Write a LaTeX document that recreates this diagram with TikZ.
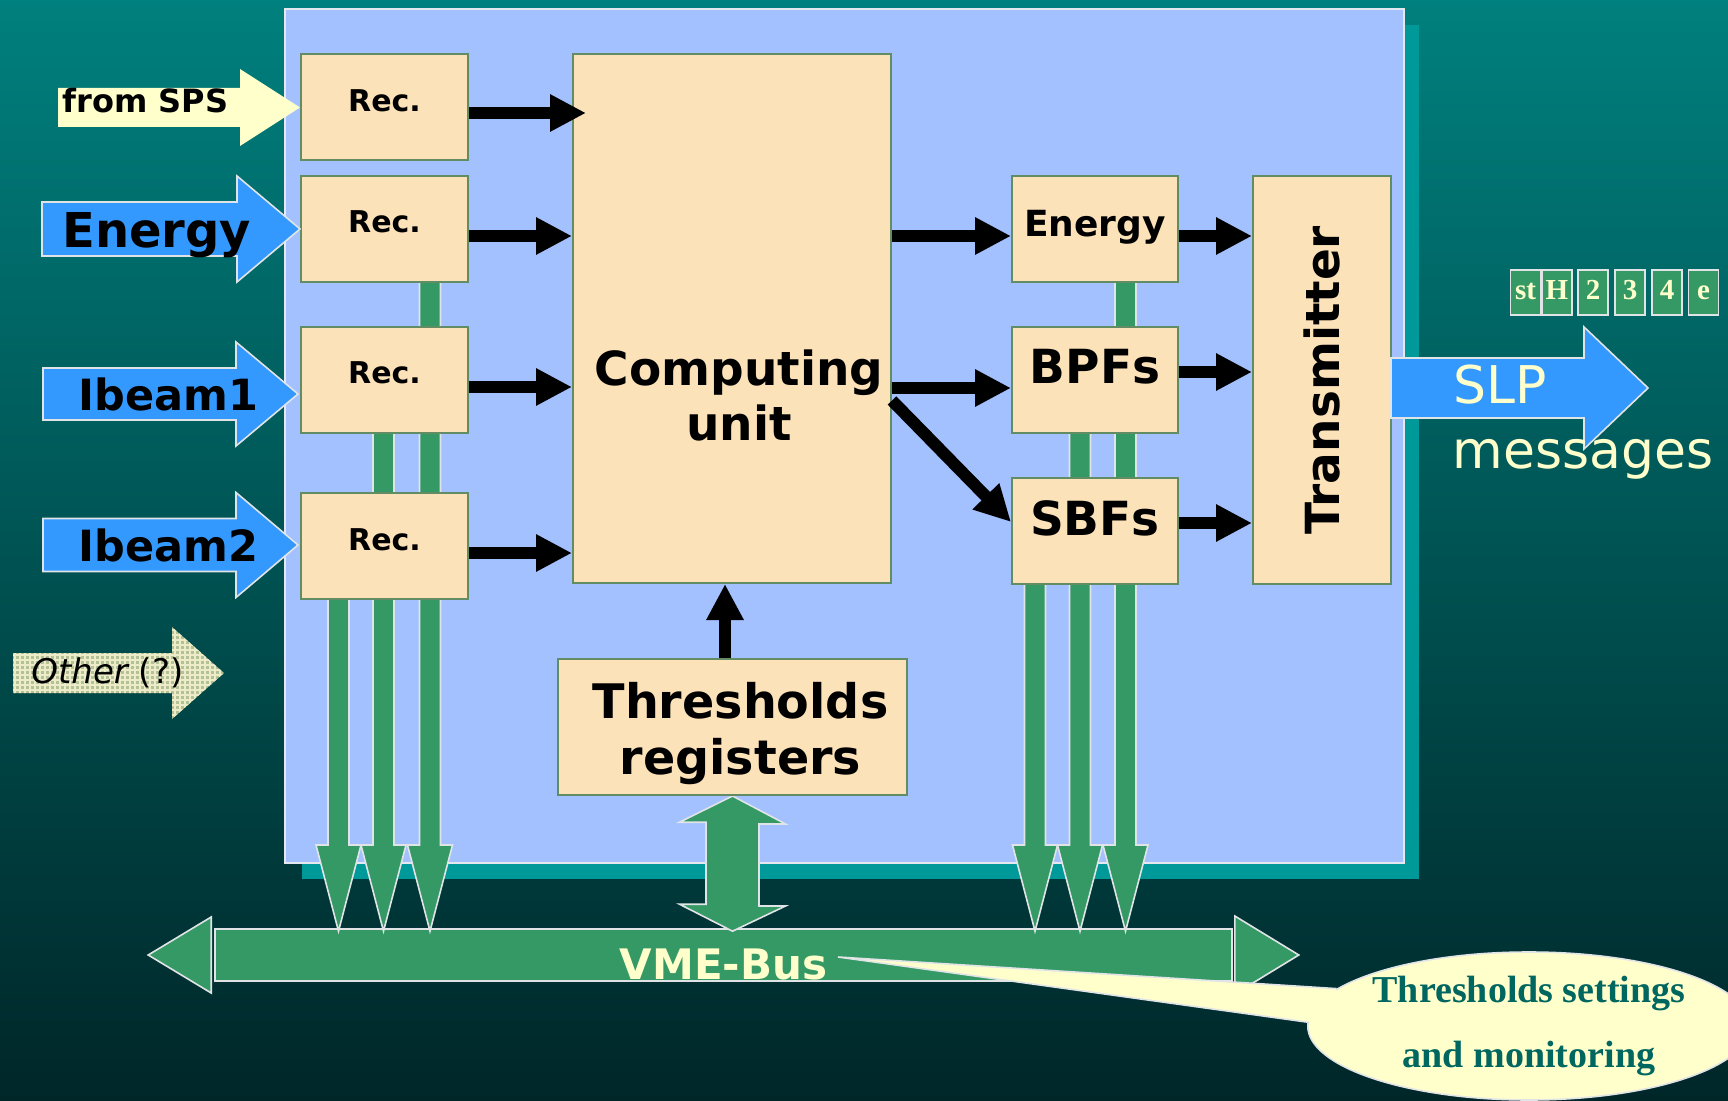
\documentclass[tikz,border=0pt]{standalone}
\usepackage{fontspec}
\setmainfont{DejaVu Sans}
\newfontfamily\timesfont{Liberation Serif}
\usetikzlibrary{arrows.meta, calc, shapes.geometric}

\definecolor{bgtop}{RGB}{0,128,126}
\definecolor{bgbot}{RGB}{0,38,40}
\definecolor{shadowteal}{RGB}{0,153,153}
\definecolor{panelblue}{RGB}{163,193,255}
\definecolor{panelline}{RGB}{230,232,240}
\definecolor{boxfill}{RGB}{252,226,185}
\definecolor{boxline}{RGB}{98,140,100}
\definecolor{busgreen}{RGB}{53,153,102}
\definecolor{lightline}{RGB}{225,228,230}
\definecolor{inblue}{RGB}{51,153,255}
\definecolor{cream}{RGB}{255,255,204}
\definecolor{calltext}{RGB}{0,102,96}
\definecolor{sage}{RGB}{178,194,150}
\definecolor{sagegrid}{RGB}{238,236,200}

\pgfdeclarelayer{bg}
\pgfdeclarelayer{mid}
\pgfsetlayers{bg,mid,main}

\newcommand\blockarrow[6][]{%
  \path[#1] #2 -- ++(-#6,-#5) -- ++(0,#5-#4) -- ++(#6-#3,0) -- ++(0,2*#4)
    -- ++(#3-#6,0) -- ++(0,#5-#4) -- cycle;}
\newcommand\dropbar[2]{%
  \path[bar] (#1-10.5,0 |- #2.south) -- (#1-10.5,845) -- (#1-22.5,845)
    -- ($(#1,0 |- bus.north)+(0,3)$) -- (#1+22.5,845) -- (#1+10.5,845)
    -- (#1+10.5,0 |- #2.south);}

\begin{document}
\begin{tikzpicture}[x=0.5pt, y=-0.5pt,
  box/.style={draw=boxline, fill=boxfill, line width=1pt, inner sep=0pt},
  recbox/.style={box, minimum width=83.5pt, minimum height=53pt, font=\bfseries\fontsize{15}{18}\selectfont, text height=10.9pt, text depth=6.9pt},
  filtbox/.style={box, minimum width=83pt, minimum height=53pt, font=\bfseries\fontsize{23.5}{28}\selectfont, text height=17.1pt, text depth=13.1pt},
  conn/.style={line width=6pt, -{Triangle[length=18pt, width=17.5pt]}},
  bar/.style={fill=busgreen, draw=lightline, line width=0.8pt},
  inarrow/.style={fill=inblue, draw=lightline, line width=0.8pt},
  intext/.style={anchor=base west, inner sep=0pt, font=\bfseries\fontsize{#1}{#1}\selectfont},
  bit/.style={fill=busgreen, draw=lightline, line width=0.75pt, minimum width=15pt, minimum height=22.5pt, inner sep=0pt, text=cream, text height=9.6pt, text depth=2.4pt, font=\timesfont\bfseries\fontsize{14.5}{15}\selectfont}]
\useasboundingbox (0,0) rectangle (1728,1101);

\node[recbox] (rec1) at (384.5,107.5) {Rec.};
\node[recbox] (rec2) at (384.5,229) {Rec.};
\node[recbox] (rec3) at (384.5,380) {Rec.};
\node[recbox] (rec4) at (384.5,546) {Rec.};
\node[box, minimum width=159pt, minimum height=264.5pt,
  label={[font=\bfseries\fontsize{23.5}{27.5}\selectfont, align=center, xshift=3.5pt, yshift=-38.5pt]center:Computing\\unit}] (comp) at (732,318.5) {};
\node[box, minimum width=83pt, minimum height=53pt, font=\bfseries\fontsize{18}{22}\selectfont, text height=13.1pt, text depth=5.1pt] (en) at (1095,229) {Energy};
\node[filtbox] (bpf) at (1095,380) {BPFs};
\node[filtbox] (sbf) at (1095,531) {SBFs};
\node[box, minimum width=69pt, minimum height=204pt, font=\bfseries\fontsize{23.5}{28}\selectfont] (tx) at (1322,380) {\rotatebox{90}{Transmitter}};
\node[box, minimum width=174.5pt, minimum height=68pt,
  label={[font=\bfseries\fontsize{23.8}{28}\selectfont, align=center, xshift=4pt, yshift=-3.5pt]center:Thresholds\\registers}] (thr) at (732.5,727) {};

\foreach \t/\x in {st/1525.5, H/1557, 2/1593, 3/1630, 4/1667, e/1703.5}
  \node[bit] (b\t) at (\x,292.5) {\t};

\begin{pgfonlayer}{bg}
\shade[top color=bgtop, bottom color=bgbot] (0,0) rectangle (1728,1101);
\fill[shadowteal] (302,25) rectangle (1419,879);
\filldraw[fill=panelblue, draw=panelline, line width=1pt] (285,9) rectangle (1404,863);
\node[bar, minimum width=508.5pt, minimum height=26pt, inner sep=0pt, text=cream, font=\bfseries\fontsize{21}{21}\selectfont, text height=24pt, text depth=0pt] (bus) at (723.5,955) {VME-Bus};
\path[bar] ($(bus.west)+(-3,-38)$) -- ++(-63,38) -- ++(63,38) -- cycle;
\path[bar] ($(bus.east)+(2,-39)$) -- ++(64,39) -- ++(-64,39) -- cycle;
\end{pgfonlayer}

\begin{pgfonlayer}{mid}
\foreach \cx/\src in {430/rec2, 383.5/rec3, 338.5/rec4, 1125.5/en, 1080/bpf, 1035/sbf}
  {\dropbar{\cx}{\src}}
\path[bar] (thr.south) -- ++(53,28) -- ++(-26.5,0) -- ++(0,82) -- ++(26.5,0)
  -- ($(thr.south |- bus.north)+(0,3)$) -- ++(-53,-27) -- ++(26.5,0) -- ++(0,-82) -- ++(-26.5,0) -- cycle;
\end{pgfonlayer}

\draw[conn] ($(rec1.east)+(0,5.5)$) -- ($(rec1.east -| comp.west)+(14,5.5)$);
\foreach \r in {rec2,rec3,rec4}
  \draw[conn] ($(\r.east)+(0,7)$) -- ($(\r.east -| comp.west)+(0,7)$);
\draw[conn] ($(comp.east |- en.west)+(0,7)$) -- ($(en.west)+(0,7)$);
\draw[conn] ($(comp.east |- bpf.west)+(0,8)$) -- ($(bpf.west)+(0,8)$);
\draw[conn] ($(comp.east)+(0,82)$) -- ($(sbf.west)+(0,-9)$);
\draw[conn] ($(en.east)+(0,7)$) -- ($(en.east -| tx.west)+(0,7)$);
\draw[conn] ($(bpf.east)+(0,-8)$) -- ($(bpf.east -| tx.west)+(0,-8)$);
\draw[conn] ($(sbf.east)+(0,-8)$) -- ($(sbf.east -| tx.west)+(0,-8)$);
\draw[conn] ($(thr.north)+(-7.5,0)$) -- ($(thr.north |- comp.south)+(-7.5,0)$);

\blockarrow[fill=cream]{(rec1.west)}{242}{19.5}{38.5}{60}
\blockarrow[inarrow]{(rec2.west)}{258}{27}{53}{63}
\blockarrow[inarrow]{($(rec3.west)+(-2,14)$)}{255}{26}{52}{62}
\blockarrow[inarrow]{($(rec4.west)+(-2,-1)$)}{255}{26.5}{52.5}{62}
\blockarrow[inarrow]{($(tx.east)+(256,8)$)}{257}{30}{61}{64}
\begin{scope}
  \blockarrow[clip]{(224,673)}{211}{20}{46}{52}
  \fill[sage] (0,600) rectangle (240,740);
  \draw[sagegrid, line width=0.6pt, step=2.5pt] (0,600) grid (240,740);
\end{scope}

\node[intext=16] (spstext) at (62,113) {from SPS};
\node[intext=24] (entext) at (62,248) {Energy};
\node[intext=21.5] (ib1text) at (78,410) {Ibeam1};
\node[intext=21.5] (ib2text) at (78,561) {Ibeam2};
\node[anchor=base west, inner sep=0pt, font=\fontsize{17}{17}\selectfont] (othertext) at (31,683) {{\itshape Other} (?)};
\node[anchor=base west, inner sep=0pt, text=cream, font=\fontsize{26}{26}\selectfont] (slp) at (1453,403) {SLP};
\node[anchor=base west, inner sep=0pt, text=cream, font=\fontsize{26}{26}\selectfont] (msg) at (1452,468) {messages};

\coordinate (calltip) at (838,957);
\node[ellipse, fill=cream, draw=lightline, line width=0.8pt, inner sep=0pt, minimum width=216pt, minimum height=74pt, align=center, text=calltext,
  font=\timesfont\bfseries\fontsize{19}{32.5}\selectfont] (call) at (1529,1026) {Thresholds settings\\and monitoring};
\fill[cream] (calltip) -- (call.169) -- ($(call.174)+(16,0)$) -- (call.179) -- cycle;
\draw[lightline, line width=0.8pt] (call.169) -- (calltip) -- (call.179);
\end{tikzpicture}
\end{document}
